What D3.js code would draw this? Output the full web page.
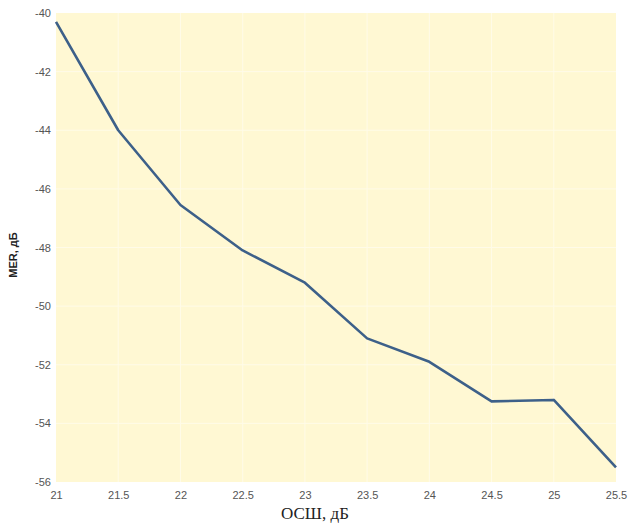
<!DOCTYPE html>
<html>
<head>
<meta charset="utf-8">
<script src="https://cdn.jsdelivr.net/npm/d3@7"></script>
<style>
  html, body { margin: 0; padding: 0; background: #ffffff; }
  svg { display: block; }
</style>
</head>
<body>
<svg id="chart" width="631" height="524"></svg>
<script>
// SNR (dB) vs. MER (dB)
const snr = [21, 21.5, 22, 22.5, 23, 23.5, 24, 24.5, 25, 25.5];
const mer = [-40.3, -44.0, -46.55, -48.1, -49.2, -51.1, -51.9, -53.25, -53.2, -55.5];
const xTicks = [21, 21.5, 22, 22.5, 23, 23.5, 24, 24.5, 25, 25.5];
const yTicks = [-40, -42, -44, -46, -48, -50, -52, -54, -56];
const xTitle = "ОСШ, дБ";
const yTitle = "MER, дБ";

const svg = d3.select("#chart");
const margin = { left: 56, right: 15, top: 13, bottom: 42 };
const W = 631, H = 524;
const x = d3.scaleLinear().domain([21, 25.5]).range([margin.left, W - margin.right]);
const y = d3.scaleLinear().domain([-56, -40]).range([H - margin.bottom, margin.top]);

// plot background
svg.append("rect")
  .attr("x", x(21)).attr("y", y(-40))
  .attr("width", x(25.5) - x(21)).attr("height", y(-56) - y(-40))
  .attr("fill", "#fff8d3");

// faint grid
const grid = svg.append("g").attr("stroke", "#fffbe8").attr("stroke-width", 1);
grid.selectAll("line.v").data(xTicks.slice(1, -1)).join("line")
  .attr("x1", d => x(d)).attr("x2", d => x(d))
  .attr("y1", y(-40)).attr("y2", y(-56));
grid.selectAll("line.h").data(yTicks.slice(1, -1)).join("line")
  .attr("y1", d => y(d)).attr("y2", d => y(d))
  .attr("x1", x(21)).attr("x2", x(25.5));

// axes (labels only, plain hyphen-minus)
const fmt = d => String(d);
const xAxis = svg.append("g")
  .attr("transform", `translate(0,${H - margin.bottom})`)
  .call(d3.axisBottom(x).tickValues(xTicks).tickSize(0).tickPadding(9).tickFormat(fmt));
xAxis.select(".domain").remove();
xAxis.selectAll("text")
  .attr("font-family", "Arial, 'Liberation Sans', sans-serif")
  .attr("font-size", 11).attr("fill", "#555");

const yAxis = svg.append("g")
  .attr("transform", `translate(${margin.left},0)`)
  .call(d3.axisLeft(y).tickValues(yTicks).tickSize(0).tickPadding(5).tickFormat(fmt));
yAxis.select(".domain").remove();
yAxis.selectAll("text")
  .attr("font-family", "Arial, 'Liberation Sans', sans-serif")
  .attr("font-size", 11).attr("fill", "#555");

// line
const line = d3.line().x((d, i) => x(snr[i])).y(d => y(d));
svg.append("path")
  .datum(mer)
  .attr("fill", "none")
  .attr("stroke", "#3d6089")
  .attr("stroke-width", 2.6)
  .attr("stroke-linejoin", "round")
  .attr("d", line);

// titles
svg.append("text")
  .attr("x", 315).attr("y", 519)
  .attr("text-anchor", "middle")
  .attr("font-family", "'Liberation Serif', 'Times New Roman', serif")
  .attr("font-size", 17).attr("fill", "#222")
  .text(xTitle);

svg.append("text")
  .attr("transform", "translate(17,255) rotate(-90)")
  .attr("text-anchor", "middle")
  .attr("font-family", "Arial, 'Liberation Sans', sans-serif")
  .attr("font-size", 11).attr("font-weight", "bold").attr("fill", "#222")
  .text(yTitle);
</script>
</body>
</html>
